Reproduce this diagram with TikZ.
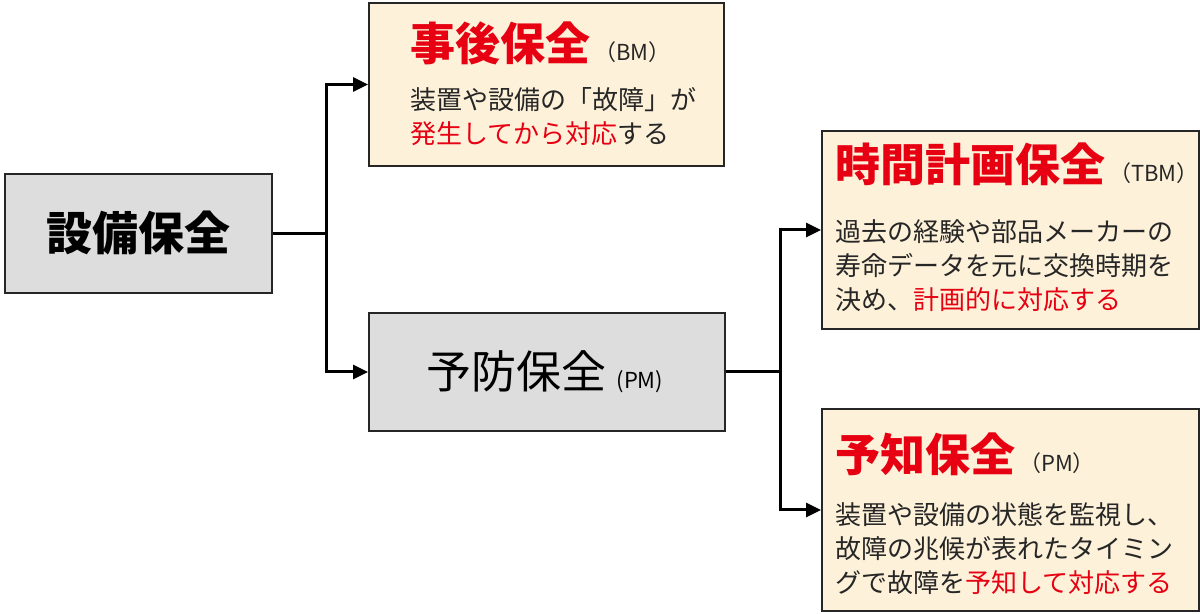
\documentclass[tikz,border=0pt]{standalone}
\usepackage{fontspec}
\setmainfont{Noto Sans CJK JP}
\usetikzlibrary{positioning,arrows.meta}
\definecolor{boxgray}{HTML}{DDDDDD}
\definecolor{boxcream}{HTML}{FDF1D9}
\definecolor{keyred}{HTML}{E60012}
\newcommand{\hl}[1]{\textcolor{keyred}{#1}}
\newcommand{\maintitle}[1]{{\fontsize{22.5}{26}\selectfont\bfseries\color{keyred}#1}}
\newcommand{\abbr}[1]{{\fontsize{11}{13}\selectfont\color{black!85}\,（#1）}}

\begin{document}
\begin{tikzpicture}[x=0.5pt, y=-0.5pt, >={Triangle[length=7.5pt,width=7pt]},
    greybox/.style={draw=black!85, line width=1pt, fill=boxgray, inner sep=0pt},
    creambox/.style={draw=black!85, line width=1pt, fill=boxcream, inner sep=0pt},
    boxtext/.style={anchor=north west, align=left, inner sep=0pt,
        font=\fontsize{13}{17}\selectfont, text=black!85},
    link/.style={line width=1.5pt}]
    \useasboundingbox (0,0) rectangle (1200,614);

    % Root
    \node[greybox, anchor=north west, minimum width=133.5pt, minimum height=59.5pt] (hozen) at (4,173)
        {\fontsize{23}{23}\selectfont\bfseries 設備保全};

    % First level
    \node[creambox, anchor=north west, minimum width=177.5pt, minimum height=81.5pt] (jigo) at (368,2) {};
    \node[boxtext] (jigo-txt) at (410,21)
        {\maintitle{事後保全}\abbr{BM}\\[7.5pt]
         装置や設備の「故障」が\\
         \hl{発生してから対応}する};

    \node[greybox, anchor=north west, minimum width=178pt, minimum height=59pt] (yobo) at (368,312)
        {\fontsize{22.5}{22.5}\selectfont 予防保全{\fontsize{11}{13}\selectfont\ \ (PM)}\hspace*{2pt}};

    % Second level
    \node[creambox, anchor=north west, minimum width=188.5pt, minimum height=99pt] (tbm) at (821,130) {};
    \node[boxtext] (tbm-txt) at (835,142)
        {\maintitle{時間計画保全}\abbr{TBM}\\[13pt]
         過去の経験や部品メーカーの\\
         寿命データを元に交換時期を\\
         決め、\hl{計画的に対応する}};

    \node[creambox, anchor=north west, minimum width=188.5pt, minimum height=101pt] (yochi) at (821,408) {};
    \node[boxtext] (yochi-txt) at (835,432)
        {\maintitle{予知保全}\abbr{PM}\\[9.5pt]
         装置や設備の状態を監視し、\\
         故障の兆候が表れたタイミン\\
         グで故障を\hl{予知して対応する}};

    % Connectors
    \draw[link] (hozen.east) -- ++(53,0) coordinate (fork1);
    \draw[link, ->] (fork1) |- (jigo.west);
    \draw[link, ->] (fork1) |- (yobo.west);
    \draw[link] (yobo.east) -- ++(54,0) coordinate (fork2);
    \draw[link, ->] (fork2) |- (tbm.west);
    \draw[link, ->] (fork2) |- (yochi.west);
\end{tikzpicture}
\end{document}
